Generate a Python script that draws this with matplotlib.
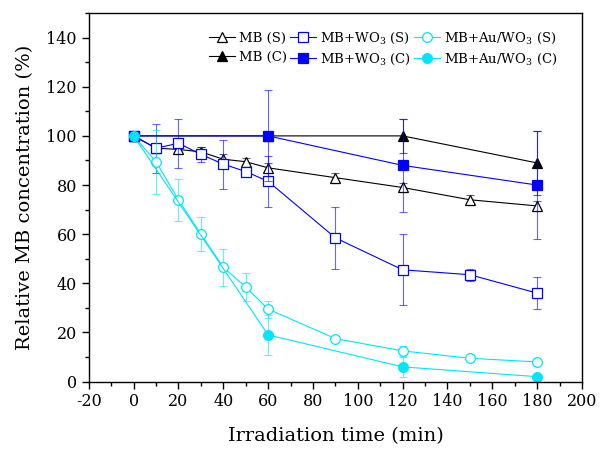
"""
Relative MB concentration vs irradiation time
"""

import matplotlib.pyplot as plt
from matplotlib.ticker import MultipleLocator

plt.rcParams['font.family'] = ['DejaVu Serif']
plt.rcParams['mathtext.fontset'] = 'dejavuserif'
plt.rcParams['axes.unicode_minus'] = False

# (S) series
t_s = [0, 10, 20, 30, 40, 50, 60, 90, 120, 150, 180]
mb_s = [100, 95, 94.5, 93.5, 90.5, 89.5, 87, 83, 79, 74, 71.5]
mb_s_err = [1, 1.5, 2, 2, 2, 1.5, 2, 2, 2, 2, 2]
wo3_s = [100, 95, 97, 92.5, 88.5, 85.5, 81.5, 58.5, 45.5, 43.5, 36]
wo3_s_err = [1, 10, 10, 3, 10, 1.5, 10.5, 12.5, 14.5, 2.5, 6.5]
au_s = [100, 89.5, 74, 60, 46.5, 38.5, 29.5, 17.5, 12.5, 9.5, 8]
au_s_err = [1, 13, 8.5, 7, 7.5, 5.5, 3.5, 1, 2, 1, 1]

# (C) series
t_c = [0, 60, 120, 180]
mb_c = [100, 100, 100, 89]
mb_c_err = [1, 2, 7, 13]
wo3_c = [100, 100, 88, 80]
wo3_c_err = [1, 18.5, 19, 22]
au_c = [100, 19, 6, 2]
au_c_err = [1, 8, 4, 1]

fig = plt.figure(figsize=(6, 4.5), dpi=100)
ax = fig.add_axes([0.148, 0.152, 0.822, 0.819])

series = [
    (t_s, mb_s, mb_s_err, 'k', '^', 'white', 'MB (S)'),
    (t_s, wo3_s, wo3_s_err, '#0000ff', 's', 'white', r'MB+WO$_3$ (S)'),
    (t_s, au_s, au_s_err, '#00e5ff', 'o', 'white', r'MB+Au/WO$_3$ (S)'),
    (t_c, mb_c, mb_c_err, 'k', '^', 'k', 'MB (C)'),
    (t_c, wo3_c, wo3_c_err, '#0000ff', 's', '#0000ff', r'MB+WO$_3$ (C)'),
    (t_c, au_c, au_c_err, '#00e5ff', 'o', '#00e5ff', r'MB+Au/WO$_3$ (C)'),
]

handles = {}
for x, y, err, col, mk, fc, lab in series:
    ax.errorbar(x, y, yerr=err, fmt='none', ecolor=col, elinewidth=0.8,
                capsize=3, capthick=0.8, alpha=0.6)
    ln, = ax.plot(x, y, color=col, lw=0.8, marker=mk, markersize=7,
                  markerfacecolor=fc, markeredgecolor=col, markeredgewidth=0.9,
                  label=lab)
    handles[lab] = ln

order = ['MB (S)', 'MB (C)', r'MB+WO$_3$ (S)', r'MB+WO$_3$ (C)',
         r'MB+Au/WO$_3$ (S)', r'MB+Au/WO$_3$ (C)']
ax.legend([handles[k] for k in order], order, ncol=3, loc='upper right',
          frameon=False, fontsize=9.5, handlelength=2.0, columnspacing=0.2,
          handletextpad=0.3, labelspacing=0.45, bbox_to_anchor=(0.975, 0.985))

ax.set_xlim(-20, 200)
ax.set_ylim(0, 150)
ax.set_yticks(range(0, 141, 20))
ax.xaxis.set_major_locator(MultipleLocator(20))
ax.xaxis.set_minor_locator(MultipleLocator(10))
ax.yaxis.set_minor_locator(MultipleLocator(10))
ax.tick_params(which='major', direction='out', length=5, width=1, labelsize=11.5)
ax.tick_params(which='minor', direction='out', length=3, width=1)
for s in ax.spines.values():
    s.set_linewidth(1.0)

ax.set_xlabel('Irradiation time (min)', fontsize=14, labelpad=12)
ax.set_ylabel('Relative MB concentration (%)', fontsize=14, labelpad=9)

plt.savefig('out.png')
